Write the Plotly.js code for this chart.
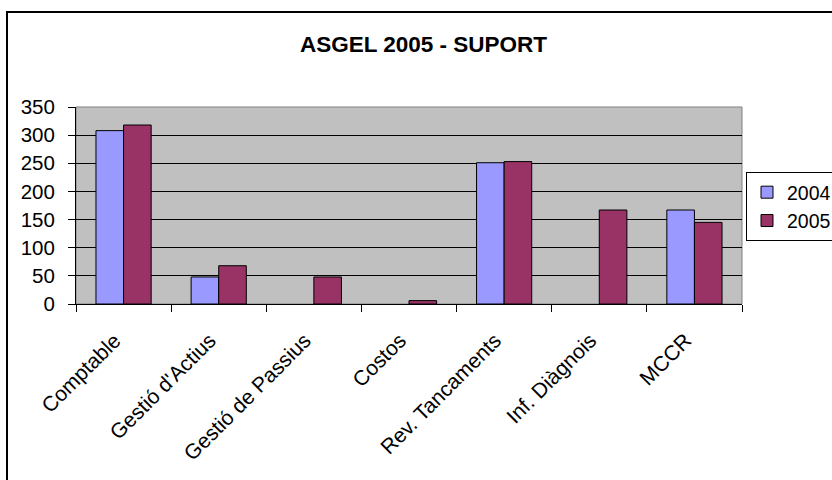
<!DOCTYPE html>
<html>
<head>
<meta charset="utf-8">
<script src="https://cdn.plot.ly/plotly-3.0.1.min.js"></script>
<style>
html,body{margin:0;padding:0;background:#fff;overflow:hidden;}
#chart{width:832px;height:480px;}
</style>
</head>
<body>
<div id="chart"></div>
<script>
const categories = ["Comptable", "Gestió d'Actius", "Gestió de Passius", "Costos", "Rev. Tancaments", "Inf. Diàgnois", "MCCR"];
const values2004 = [308, 48, null, null, 251, null, 167];
const values2005 = [318, 68, 48, 6, 253, 167, 145];
const seriesNames = ["2004", "2005"];
const yTicks = [0, 50, 100, 150, 200, 250, 300, 350];
const chartTitle = "ASGEL 2005 - SUPORT";

const FONT = "Liberation Sans, Arial, sans-serif";

const traces = [
  {
    type: "bar", name: seriesNames[0], x: categories, y: values2004,
    marker: {color: "#9999FF", line: {color: "#000", width: 1}},
    legendgroup: "a"
  },
  {
    type: "bar", name: seriesNames[1], x: categories, y: values2005,
    marker: {color: "#993366", line: {color: "#000", width: 1}},
    legendgroup: "b"
  }
];

const L = 76, R = 742, T = 107, B = 304;
const PW = R - L, PH = B - T;

const layout = {
  width: 832, height: 480,
  margin: {l: L, r: 832 - R, t: T, b: 480 - B, pad: 0, autoexpand: false},
  paper_bgcolor: "#fff",
  plot_bgcolor: "rgba(0,0,0,0)",
  barmode: "group",
  bargap: 0.42,
  bargroupgap: 0,
  showlegend: true,
  font: {family: FONT, size: 20, color: "#000"},
  title: {
    text: chartTitle,
    font: {family: FONT, size: 22.5, color: "#000", weight: 700},
    xref: "container", x: 423.5/832, xanchor: "center",
    yref: "container", y: 1 - 44/480, yanchor: "middle"
  },
  xaxis: {
    type: "category",
    tickangle: -45,
    ticks: "outside", tickson: "boundaries", ticklen: 7, tickcolor: "#000", tickwidth: 1,
    showline: true, linecolor: "#000", linewidth: 1,
    showgrid: false, zeroline: false,
    tickfont: {family: FONT, size: 21, color: "#000"},
    ticklabelstandoff: 15,
    ticklabelshift: -9,
    fixedrange: true
  },
  yaxis: {
    range: [0, 350],
    tickvals: yTicks,
    ticktext: yTicks.map(String),
    ticks: "outside", ticklen: 7, tickcolor: "#000", tickwidth: 1,
    showline: true, linecolor: "#000", linewidth: 1,
    showgrid: true, gridcolor: "#000", gridwidth: 1,
    zeroline: false,
    tickfont: {family: FONT, size: 20.5, color: "#000"},
    ticklabelstandoff: 9,
    fixedrange: true
  },
  legend: {
    x: (746 - L)/PW, xanchor: "left",
    y: (B - 172)/PH, yanchor: "top",
    bgcolor: "#fff", bordercolor: "#000", borderwidth: 1,
    font: {family: FONT, size: 19.5, color: "#000"},
    tracegroupgap: 6,
    traceorder: "normal"
  },
  shapes: [
    {type: "rect", xref: "paper", yref: "paper", x0: 0, x1: 1, y0: 0, y1: 1,
     fillcolor: "#C0C0C0", line: {color: "#808080", width: 1}, layer: "below"},
    {type: "rect", xref: "paper", yref: "paper",
     x0: (7 - L)/PW, x1: 1.5, y0: -1.5, y1: (B - 12)/PH,
     fillcolor: "rgba(0,0,0,0)", line: {color: "#000", width: 2}, layer: "below"}
  ]
};

Plotly.newPlot("chart", traces, layout, {displayModeBar: false, staticPlot: true});
</script>
</body>
</html>
